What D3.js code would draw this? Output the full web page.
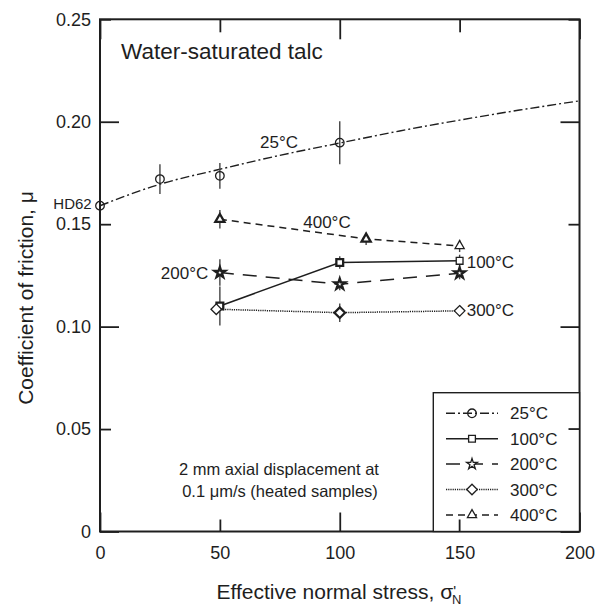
<!DOCTYPE html>
<html>
<head>
<meta charset="utf-8">
<script src="https://cdn.jsdelivr.net/npm/d3@7"></script>
<style>
  body { margin: 0; background: #fff; }
  svg { display: block; font-family: "Liberation Sans", Arial, sans-serif; }
</style>
</head>
<body>
<svg id="chart" width="597" height="610"></svg>
<script>
// values
const xTicks = [0, 50, 100, 150, 200];
const yTicks = [0, 0.05, 0.10, 0.15, 0.20, 0.25];
const yTickLabels = ["0", "0.05", "0.10", "0.15", "0.20", "0.25"];

const stress25 = [0, 25, 50, 100];
const mu25 = [0.159, 0.172, 0.1736, 0.1898];
const err25 = [0, 0.0073, 0.0063, 0.0105];
// fitted curve through the 25°C data, as drawn
const fitStress25 = [0, 25, 50, 75, 100, 125, 150, 175, 200];
const fitMu25 = [0.159, 0.1695, 0.1768, 0.1836, 0.1896, 0.1955, 0.2008, 0.2057, 0.2102];

const stress100 = [50, 100, 150];
const mu100 = [0.1101, 0.1313, 0.1321];
const err100 = [0.0095, 0.003, 0.003];

const stress200 = [50, 100, 150];
const mu200 = [0.1264, 0.1207, 0.1261];
const err200 = [0.0065, 0.003, 0.003];

const stress300 = [48.5, 100, 150];
const mu300 = [0.1085, 0.1068, 0.1077];
const err300 = [0, 0.0045, 0.002];

const stress400 = [50, 111, 150];
const mu400 = [0.1524, 0.1428, 0.1394];
const err400 = [0.0045, 0.003, 0.003];

const legendLabels = ["25°C", "100°C", "200°C", "300°C", "400°C"];

const svg = d3.select("#chart");
const margin = { top: 19.3, right: 17.5, bottom: 78.5, left: 100 };
const width = +svg.attr("width");
const height = +svg.attr("height");
const ink = "#1e1e1e";

const x = d3.scaleLinear().domain([0, 200]).range([margin.left, width - margin.right]);
const y = d3.scaleLinear().domain([0, 0.25]).range([height - margin.bottom, margin.top]);

// marker shapes
const diamond = { draw(ctx, size) { const r = Math.sqrt(size / 2); ctx.moveTo(0, -r); ctx.lineTo(r, 0); ctx.lineTo(0, r); ctx.lineTo(-r, 0); ctx.closePath(); } };
const markers = {
    circle: d3.symbol(d3.symbolCircle, 58)(),
    square: d3.symbol(d3.symbolSquare, 46)(),
    star: d3.symbol(d3.symbolStar, 36)(),
    diamond: d3.symbol(diamond, 56)(),
    triangle: d3.symbol(d3.symbolTriangle, 36)()
};

const series = [
    { xs: stress25, ys: mu25, err: err25, marker: "circle", dash: "9,3,2,3", heavy: [] },
    { xs: stress100, ys: mu100, err: err100, marker: "square", dash: null, heavy: [0, 1] },
    { xs: stress200, ys: mu200, err: err200, marker: "star", dash: "14,9", heavy: [0, 1, 2] },
    { xs: stress300, ys: mu300, err: err300, marker: "diamond", dash: "1.2,1", heavy: [1] },
    { xs: stress400, ys: mu400, err: err400, marker: "triangle", dash: "7,5", heavy: [0, 1] }
];

// ticks, inward on all four sides
const isMajorX = d => d % 100 === 0;
const isMajorY = d => Math.round(d * 100) % 10 === 0;

svg.append("g")
    .attr("transform", `translate(0, ${y(0)})`)
    .call(d3.axisBottom(x).tickValues(xTicks).tickSizeInner(-19).tickSizeOuter(0).tickPadding(15))
    .call(g => g.select(".domain").remove())
    .call(g => g.selectAll(".tick line").attr("y2", d => isMajorX(d) ? -19 : -12))
    .call(g => g.selectAll("text").attr("font-size", 18).attr("fill", ink).attr("font-family", null));

svg.append("g")
    .attr("transform", `translate(0, ${y(0.25)})`)
    .call(d3.axisTop(x).tickValues(xTicks).tickFormat("").tickSizeOuter(0))
    .call(g => g.select(".domain").remove())
    .call(g => g.selectAll(".tick line").attr("y2", d => isMajorX(d) ? 20 : 13));

svg.append("g")
    .attr("transform", `translate(${x(0)}, 0)`)
    .call(d3.axisLeft(y).tickValues(yTicks).tickFormat((d, i) => yTickLabels[i]).tickSizeInner(-19).tickSizeOuter(0).tickPadding(9))
    .call(g => g.select(".domain").remove())
    .call(g => g.selectAll(".tick line").attr("x2", d => isMajorY(d) ? 19 : 11))
    .call(g => g.selectAll("text").attr("font-size", 18).attr("fill", ink).attr("font-family", null));

svg.append("g")
    .attr("transform", `translate(${x(200)}, 0)`)
    .call(d3.axisRight(y).tickValues(yTicks).tickFormat("").tickSizeOuter(0))
    .call(g => g.select(".domain").remove())
    .call(g => g.selectAll(".tick line").attr("x2", d => isMajorY(d) ? -19 : -11));

svg.selectAll(".tick line").attr("stroke", ink).attr("stroke-width", 1.8);

// 25°C fitted curve
const fitLine = d3.line().x(d => x(d[0])).y(d => y(d[1])).curve(d3.curveMonotoneX);
svg.append("path")
    .datum(fitStress25.map((s, i) => [s, fitMu25[i]]))
    .attr("d", fitLine)
    .attr("fill", "none")
    .attr("stroke", ink)
    .attr("stroke-width", 1.4)
    .attr("stroke-dasharray", "9,3,2,3");

// connecting lines for the heated samples
const segLine = d3.line().x(d => x(d[0])).y(d => y(d[1]));
series.slice(1).forEach(s => {
    svg.append("path")
        .datum(s.xs.map((v, i) => [v, s.ys[i]]))
        .attr("d", segLine)
        .attr("fill", "none")
        .attr("stroke", ink)
        .attr("stroke-width", 1.5)
        .attr("stroke-dasharray", s.dash);
});

// error bars
series.forEach(s => {
    svg.append("g").selectAll("line")
        .data(s.xs.map((v, i) => ({ x: v, y: s.ys[i], e: s.err[i] })).filter(d => d.e > 0))
        .join("line")
        .attr("x1", d => x(d.x)).attr("x2", d => x(d.x))
        .attr("y1", d => y(d.y - d.e)).attr("y2", d => y(d.y + d.e))
        .attr("stroke", "#444")
        .attr("stroke-width", 1.4);
});

// markers
series.forEach(s => {
    svg.append("g").selectAll("path")
        .data(s.xs.map((v, i) => ({ x: v, y: s.ys[i], i })))
        .join("path")
        .attr("transform", d => `translate(${x(d.x)}, ${y(d.y)})`)
        .attr("d", markers[s.marker])
        .attr("fill", "#fff")
        .attr("fill-opacity", s.marker === "circle" ? 0 : 1)
        .attr("stroke", ink)
        .attr("stroke-width", d => s.heavy.includes(d.i) ? 2.3 : 1.3);
});

// frame
svg.append("rect")
    .attr("x", x(0)).attr("y", y(0.25))
    .attr("width", x(200) - x(0)).attr("height", y(0) - y(0.25))
    .attr("fill", "none")
    .attr("stroke", ink)
    .attr("stroke-width", 2);

// legend
const legend = svg.append("g");
legend.append("rect")
    .attr("x", 433.3).attr("y", 392.7)
    .attr("width", x(200) - 433.3).attr("height", y(0) - 392.7)
    .attr("fill", "#fff")
    .attr("stroke", ink)
    .attr("stroke-width", 1.4);

// redraw the ticks that show through the legend
svg.append("line").attr("x1", x(150)).attr("x2", x(150)).attr("y1", y(0)).attr("y2", y(0) - 12)
    .attr("stroke", ink).attr("stroke-width", 1.8);
svg.append("line").attr("x1", x(200)).attr("x2", x(200) - 11).attr("y1", y(0.05)).attr("y2", y(0.05))
    .attr("stroke", ink).attr("stroke-width", 1.8);

legendLabels.forEach((lab, i) => {
    const cy = 413.3 + i * 25.4;
    const s = series[i];
    legend.append("line")
        .attr("x1", 446).attr("x2", 498).attr("y1", cy).attr("y2", cy)
        .attr("stroke", ink)
        .attr("stroke-width", 1.5)
        .attr("stroke-dasharray", s.dash);
    legend.append("path")
        .attr("transform", `translate(472, ${cy})`)
        .attr("d", markers[s.marker])
        .attr("fill", "#fff")
        .attr("fill-opacity", s.marker === "circle" ? 0 : 1)
        .attr("stroke", ink)
        .attr("stroke-width", 1.3);
    legend.append("text")
        .attr("x", 510).attr("y", cy + 6)
        .attr("font-size", 17)
        .attr("fill", ink)
        .text(lab);
});

// in-plot labels
const labels = [
    { t: "25°C", x: 260, y: 147.8, a: "start" },
    { t: "400°C", x: 350.7, y: 227.8, a: "end" },
    { t: "200°C", x: 208.3, y: 278.7, a: "end" },
    { t: "100°C", x: 466.7, y: 267.7, a: "start" },
    { t: "300°C", x: 466.7, y: 316, a: "start" }
];
svg.append("g").selectAll("text")
    .data(labels)
    .join("text")
    .attr("x", d => d.x).attr("y", d => d.y)
    .attr("text-anchor", d => d.a)
    .attr("font-size", 17)
    .attr("fill", ink)
    .text(d => d.t);

svg.append("text")
    .attr("x", 91.7).attr("y", 208.7)
    .attr("text-anchor", "end")
    .attr("font-size", 15)
    .attr("fill", ink)
    .text("HD62");

svg.append("text")
    .attr("x", 121).attr("y", 59.3)
    .attr("font-size", 22.5)
    .attr("fill", ink)
    .text("Water-saturated talc");

svg.append("text")
    .attr("x", 279).attr("y", 475)
    .attr("text-anchor", "middle")
    .attr("font-size", 16.5)
    .attr("fill", ink)
    .text("2 mm axial displacement at");

svg.append("text")
    .attr("x", 280).attr("y", 496.7)
    .attr("text-anchor", "middle")
    .attr("font-size", 16.5)
    .attr("fill", ink)
    .text("0.1 μm/s (heated samples)");

// axis titles
const xTitle = svg.append("text")
    .attr("x", 339).attr("y", 599)
    .attr("text-anchor", "middle")
    .attr("font-size", 21)
    .attr("fill", ink);
xTitle.append("tspan").text("Effective normal stress, σ");
xTitle.append("tspan").attr("font-size", 15).attr("dy", -3).text("'");
xTitle.append("tspan").attr("font-size", 13).attr("dx", -4).attr("dy", 8).text("N");

svg.append("text")
    .attr("transform", "rotate(-90)")
    .attr("x", -298).attr("y", 33)
    .attr("text-anchor", "middle")
    .attr("font-size", 21)
    .attr("fill", ink)
    .text("Coefficient of friction, μ");
</script>
</body>
</html>
